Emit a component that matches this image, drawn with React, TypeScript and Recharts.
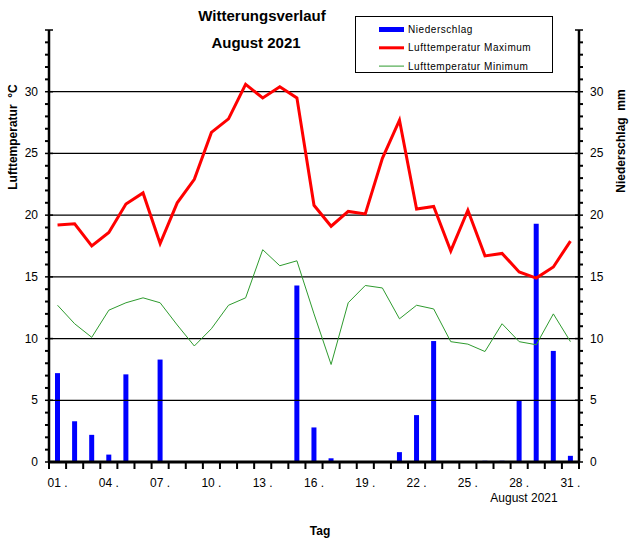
import React from "react";
import { ComposedChart, Bar, Line, XAxis, YAxis, ReferenceLine, Legend } from "recharts";

const DAYS = [1, 2, 3, 4, 5, 6, 7, 8, 9, 10, 11, 12, 13, 14, 15, 16, 17, 18, 19, 20, 21, 22, 23, 24, 25, 26, 27, 28, 29, 30, 31];
const PRECIP = [7.2, 3.3, 2.2, 0.6, 7.1, 0, 8.3, 0, 0, 0, 0, 0, 0, 0, 14.3, 2.8, 0.3, 0, 0, 0, 0.8, 3.8, 9.8, 0, 0, 0.1, 0.1, 5.0, 19.3, 9.0, 0.5];
const TMAX = [19.2, 19.3, 17.5, 18.6, 20.9, 21.8, 17.7, 21.0, 22.9, 26.7, 27.8, 30.6, 29.5, 30.4, 29.5, 20.8, 19.1, 20.3, 20.1, 24.6, 27.7, 20.5, 20.7, 17.1, 20.4, 16.7, 16.9, 15.4, 14.9, 15.8, 17.9];
const TMIN = [12.7, 11.2, 10.1, 12.3, 12.9, 13.3, 12.9, 11.1, 9.4, 10.8, 12.7, 13.3, 17.2, 15.9, 16.3, 12.0, 7.9, 12.9, 14.3, 14.1, 11.6, 12.7, 12.4, 9.75, 9.55, 8.95, 11.2, 9.75, 9.5, 12.0, 9.75];
const Y_TICKS = [0, 1, 2, 3, 4, 5, 6, 7, 8, 9, 10, 11, 12, 13, 14, 15, 16, 17, 18, 19, 20, 21, 22, 23, 24, 25, 26, 27, 28, 29, 30, 31, 32, 33, 34, 35];
const GRID_VALUES = [5, 10, 15, 20, 25, 30];
const LABEL_MAX = 30;
const SERIES_NAMES = ["Niederschlag", "Lufttemperatur Maximum", "Lufttemperatur Minimum"];

const data = DAYS.map((d, i) => ({ day: d, precip: PRECIP[i], tmax: TMAX[i], tmin: TMIN[i] }));

const W = 633;
const H = 550;
const LEFT_W = 49;
const RIGHT_W = 54;
const PLOT_W = W - LEFT_W - RIGHT_W;
const FONT = "'Liberation Sans', Arial, sans-serif";

const YTick = (props: any) => {
  const { x, y, payload, side } = props;
  const v = payload.value;
  const major = v % 5 === 0;
  const dir = side === "left" ? -1 : 1;
  return (
    <g>
      {major ? (
        <line x1={x - 4} x2={x + 4} y1={y} y2={y} stroke="#000" strokeWidth={1.5} />
      ) : (
        <line x1={x} x2={x + dir * 4} y1={y} y2={y} stroke="#000" strokeWidth={2} />
      )}
      {major && v <= LABEL_MAX ? (
        <text
          x={x + dir * 11}
          y={y}
          textAnchor={side === "left" ? "end" : "start"}
          dominantBaseline="central"
          fontSize={12}
          fontFamily={FONT}
          fill="#000"
        >
          {v}
        </text>
      ) : null}
    </g>
  );
};

const XTick = (props: any) => {
  const { x, y, payload, index } = props;
  const step = PLOT_W / DAYS.length;
  const d = payload.value;
  const show = (d - 1) % 3 === 0;
  const isLast = index === DAYS.length - 1;
  return (
    <g>
      <line x1={x - step / 2} x2={x - step / 2} y1={y} y2={y + 7} stroke="#000" strokeWidth={2} />
      {isLast ? <line x1={x + step / 2} x2={x + step / 2} y1={y} y2={y + 7} stroke="#000" strokeWidth={2} /> : null}
      {show ? (
        <text x={x} y={y + 21} textAnchor="middle" dominantBaseline="central" fontSize={12} fontFamily={FONT} fill="#000">
          {String(d).padStart(2, "0") + " ."}
        </text>
      ) : null}
    </g>
  );
};

const LegendContent = (props: any) => {
  const { payload } = props;
  const rows = [...(payload || [])].sort(
    (a: any, b: any) => SERIES_NAMES.indexOf(a.value) - SERIES_NAMES.indexOf(b.value)
  );
  return (
    <svg width={198} height={57} style={{ display: "block", background: "#fff" }}>
      <rect x={0.5} y={0.5} width={197} height={56} fill="#fff" stroke="#000" strokeWidth={1} />
      {rows.map((p: any, i: number) => {
        const cy = 13.5 + i * 18.3;
        let icon;
        if (p.type === "rect") {
          icon = <rect x={24} y={cy - 2.5} width={25} height={5} fill={p.color} />;
        } else {
          icon = <line x1={24} x2={49} y1={cy} y2={cy} stroke={p.color} strokeWidth={p.payload && p.payload.strokeWidth ? p.payload.strokeWidth : 1} />;
        }
        return (
          <g key={i}>
            {icon}
            <text x={53} y={cy} dominantBaseline="central" fontSize={10} letterSpacing={0.55} fontFamily={FONT} fill="#000">
              {p.value}
            </text>
          </g>
        );
      })}
    </svg>
  );
};

export default function App() {
  return (
    <div style={{ position: "absolute", left: 0, top: 0, width: W, height: H, background: "#fff", fontFamily: FONT }}>
      <ComposedChart width={W} height={H} data={data} margin={{ top: 30, right: 0, left: 0, bottom: 58 }}>
        <XAxis
          dataKey="day"
          type="category"
          xAxisId="x"
          interval={0}
          height={30}
          tickSize={0}
          tickMargin={0}
          tickLine={false}
          axisLine={{ stroke: "#000", strokeWidth: 3 }}
          tick={<XTick />}
        />
        <YAxis
          yAxisId="t"
          orientation="left"
          width={LEFT_W}
          domain={[0, 35]}
          ticks={Y_TICKS}
          interval={0}
          tickSize={0}
          tickMargin={0}
          tickLine={false}
          axisLine={{ stroke: "#000", strokeWidth: 2.5 }}
          tick={(p: any) => <YTick {...p} side="left" />}
        />
        <YAxis
          yAxisId="p"
          orientation="right"
          width={RIGHT_W}
          domain={[0, 35]}
          ticks={Y_TICKS}
          interval={0}
          tickSize={0}
          tickMargin={0}
          tickLine={false}
          axisLine={{ stroke: "#000", strokeWidth: 2.5 }}
          tick={(p: any) => <YTick {...p} side="right" />}
        />
        {GRID_VALUES.map((v) => (
          <ReferenceLine key={v} yAxisId="t" xAxisId="x" y={v} stroke="#000" strokeWidth={1.3} />
        ))}
        <Bar
          dataKey="precip"
          name={SERIES_NAMES[0]}
          yAxisId="p"
          xAxisId="x"
          fill="#0000ff"
          barSize={5}
          legendType="rect"
          isAnimationActive={false}
        />
        <Line
          dataKey="tmax"
          name={SERIES_NAMES[1]}
          yAxisId="t"
          xAxisId="x"
          type="linear"
          stroke="#ff0000"
          strokeWidth={3}
          dot={false}
          legendType="line"
          isAnimationActive={false}
        />
        <Line
          dataKey="tmin"
          name={SERIES_NAMES[2]}
          yAxisId="t"
          xAxisId="x"
          type="linear"
          stroke="#2e9b2e"
          strokeWidth={1}
          dot={false}
          legendType="line"
          isAnimationActive={false}
        />
        <Legend
          layout="vertical"
          align="center"
          verticalAlign="middle"
          content={<LegendContent />}
          wrapperStyle={{ position: "absolute", left: 355, top: 16, width: 198, height: 57 }}
        />
      </ComposedChart>
      <div style={{ position: "absolute", left: 162, width: 200, top: 6, textAlign: "center", fontWeight: "bold", fontSize: 15, lineHeight: "20px" }}>
        Witterungsverlauf
      </div>
      <div style={{ position: "absolute", left: 156, width: 200, top: 33, textAlign: "center", fontWeight: "bold", fontSize: 15, lineHeight: "20px" }}>
        August 2021
      </div>
      <div
        style={{
          position: "absolute",
          left: 13 - 80,
          top: 137 - 8,
          width: 160,
          height: 16,
          lineHeight: "16px",
          textAlign: "center",
          fontWeight: "bold",
          fontSize: 12,
          transform: "rotate(-90deg)",
          whiteSpace: "pre",
        }}
      >
        {"Lufttemperatur  °C"}
      </div>
      <div
        style={{
          position: "absolute",
          left: 621 - 80,
          top: 141 - 8,
          width: 160,
          height: 16,
          lineHeight: "16px",
          textAlign: "center",
          fontWeight: "bold",
          fontSize: 12,
          transform: "rotate(-90deg)",
          whiteSpace: "pre",
        }}
      >
        {"Niederschlag  mm"}
      </div>
      <div style={{ position: "absolute", left: 474, width: 100, top: 491, textAlign: "center", fontSize: 12, lineHeight: "15px" }}>
        August 2021
      </div>
      <div style={{ position: "absolute", left: 270, width: 100, top: 523, textAlign: "center", fontWeight: "bold", fontSize: 12, lineHeight: "16px" }}>
        Tag
      </div>
    </div>
  );
}
